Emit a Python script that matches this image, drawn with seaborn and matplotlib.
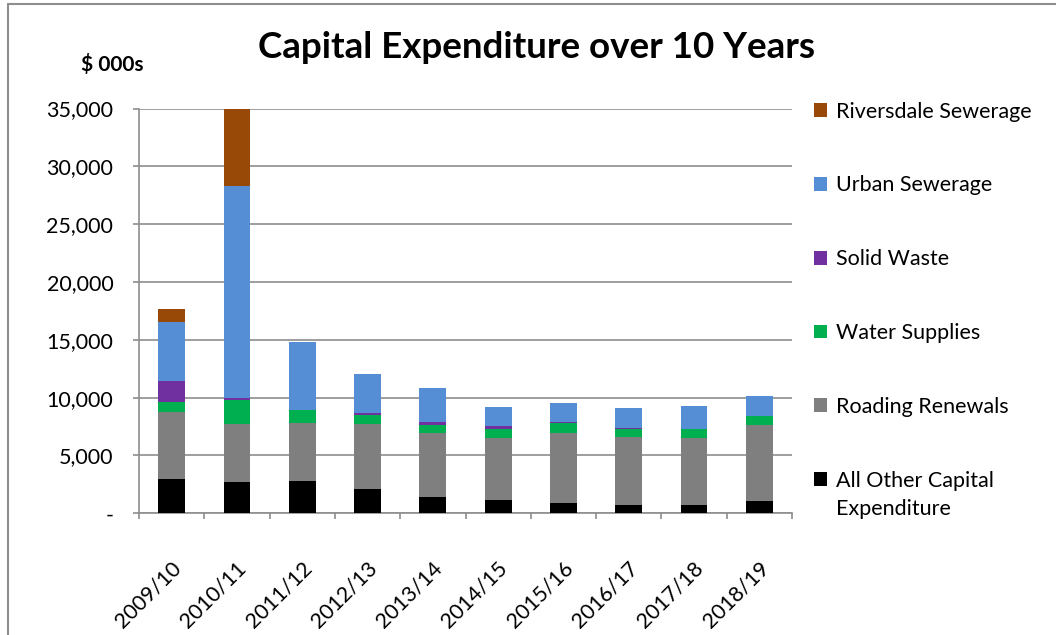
import numpy as np
import pandas as pd
import matplotlib
matplotlib.use("Agg")
import matplotlib.pyplot as plt
from matplotlib.patches import Patch
from matplotlib.lines import Line2D
from matplotlib.ticker import FuncFormatter, FixedLocator
from matplotlib.transforms import ScaledTranslation
import seaborn as sns

years = ["2009/10", "2010/11", "2011/12", "2012/13", "2013/14",
         "2014/15", "2015/16", "2016/17", "2017/18", "2018/19"]
all_other = [2970, 2710, 2800, 2100, 1410, 1150, 900, 720, 720, 1070]
roading = [5810, 5030, 5020, 5640, 5490, 5400, 6000, 5880, 5830, 6580]
water = [870, 2080, 1130, 780, 750, 750, 920, 700, 750, 780]
solid_waste = [1810, 180, 0, 110, 260, 260, 90, 90, 0, 0]
urban = [5120, 18300, 5890, 3440, 2950, 1640, 1640, 1730, 2000, 1750]
riversdale = [1120, 6700, 0, 0, 0, 0, 0, 0, 0, 0]

series_names = ["All Other Capital Expenditure", "Roading Renewals", "Water Supplies",
                "Solid Waste", "Urban Sewerage", "Riversdale Sewerage"]
series_values = [all_other, roading, water, solid_waste, urban, riversdale]
colors = ["#000000", "#7F7F7F", "#00B050", "#7030A0", "#558ED5", "#984807"]

sns.set_theme(style="white")
plt.rcParams["font.family"] = ["Lato", "DejaVu Sans"]
plt.rcParams["text.color"] = "black"
plt.rcParams["xtick.labelcolor"] = "black"
plt.rcParams["ytick.labelcolor"] = "black"

FS = 15.5
GRID = "#8E8E8E"

fig = plt.figure(figsize=(10.56, 6.35), dpi=100)
ax = fig.add_axes([139 / 1056, 1 - 513.3 / 635, (792 - 139) / 1056, (513.3 - 108.5) / 635])

cum = np.cumsum(np.array(series_values, dtype=float), axis=0)
df = pd.DataFrame({"year": years})
for i in range(len(series_names) - 1, -1, -1):
    df["cum"] = cum[i]
    sns.barplot(data=df, x="year", y="cum", color=colors[i], saturation=1,
                width=0.41, ax=ax, zorder=3, edgecolor="none", linewidth=0)

ax.set_ylim(0, 35000)
ax.set_xlim(-0.5, len(years) - 0.5)
ax.set_yticks(np.arange(0, 35001, 5000))
ax.yaxis.set_major_formatter(FuncFormatter(lambda v, p: "-" if v == 0 else f"{int(v):,}"))
ax.yaxis.grid(True, color=GRID, linewidth=1.2, zorder=0)
ax.set_axisbelow(True)
ax.set_xlabel("")
ax.set_ylabel("")

ax.xaxis.set_major_locator(FixedLocator(np.arange(len(years))))
ax.set_xticklabels(years, rotation=45, ha="right", rotation_mode="anchor", fontsize=FS)
ax.xaxis.set_minor_locator(FixedLocator(np.arange(-0.5, len(years), 1.0)))
ax.tick_params(axis="x", which="major", length=0, pad=32)
ax.tick_params(axis="x", which="minor", length=4.5, color=GRID, width=1.2, direction="out", bottom=True)
ax.tick_params(axis="y", which="major", length=4.5, color=GRID, width=1.2, direction="out", left=True,
               labelsize=FS, pad=14)
shift = ScaledTranslation(-1 / 100, 0, fig.dpi_scale_trans)
for lab in ax.get_xticklabels():
    lab.set_transform(lab.get_transform() + shift)

for s in ["top", "right"]:
    ax.spines[s].set_visible(False)
for s in ["left", "bottom"]:
    ax.spines[s].set_color(GRID)
    ax.spines[s].set_linewidth(1.2)

handles = [Patch(facecolor=colors[i], edgecolor="none",
                 label=("All Other Capital" if i == 0 else series_names[i]))
           for i in range(len(series_names) - 1, -1, -1)]
leg = fig.legend(handles=handles, loc="upper left", bbox_to_anchor=(805 / 1056, 1 - 93 / 635),
                 frameon=False, fontsize=FS, handlelength=0.62, handleheight=0.62,
                 handletextpad=0.4, labelspacing=2.5, borderaxespad=0)

fig.canvas.draw()
last = leg.get_texts()[-1]
bb = last.get_window_extent()
fig.text(bb.x0 / fig.bbox.width, (bb.y0 + bb.y1) / 2 / fig.bbox.height - 28 / 635,
         "Expenditure", ha="left", va="center", fontsize=FS)

fig.text(537 / 1056, 1 - 47 / 635, "Capital Expenditure over 10 Years", ha="center", va="center",
         fontsize=26.5, fontweight="bold")
fig.text(112 / 1056, 1 - 65 / 635, "$ 000s", ha="center", va="center", fontsize=15, fontweight="bold")

fig.add_artist(Line2D([8 / 1056, 8 / 1056], [0, 1 - 4 / 635], transform=fig.transFigure,
                      color=GRID, linewidth=1.5))
fig.add_artist(Line2D([8 / 1056, 1], [1 - 4 / 635, 1 - 4 / 635], transform=fig.transFigure,
                      color=GRID, linewidth=1.5))

fig.savefig("out.png", dpi=100)
